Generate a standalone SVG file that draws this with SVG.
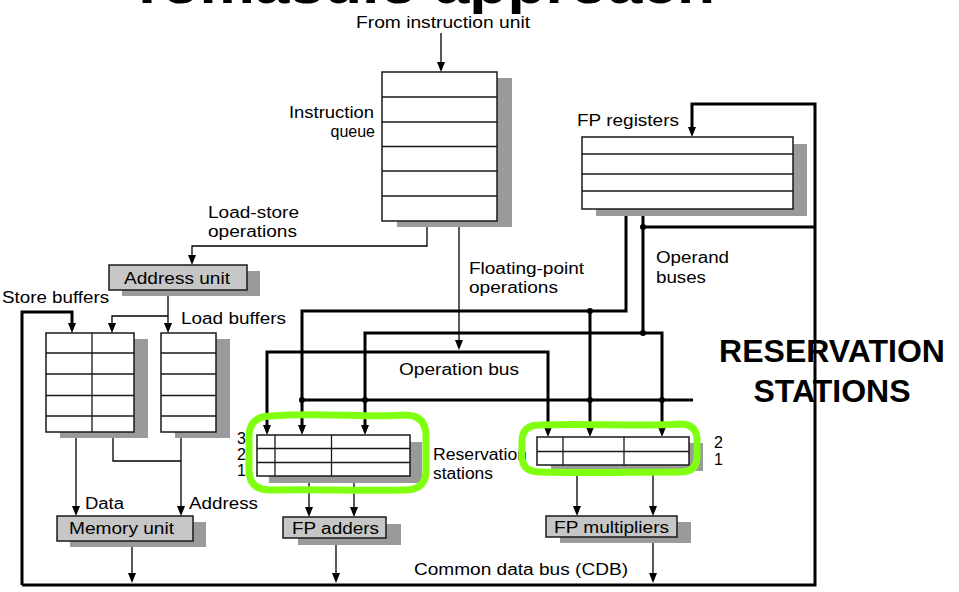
<svg xmlns="http://www.w3.org/2000/svg" width="959" height="592" viewBox="0 0 959 592">
<defs>
<style>
.t{font-family:"Liberation Sans",Arial,Helvetica,sans-serif;font-size:16px;fill:#000}
.b{font-family:"Liberation Sans",Arial,Helvetica,sans-serif;font-weight:bold;fill:#000}
.box{fill:#fff;stroke:#1a1a1a;stroke-width:1.5}
.unit{fill:#c6c6c6;stroke:#1a1a1a;stroke-width:1.5}
.sh{fill:#9a9a9a}
.row{stroke:#1a1a1a;stroke-width:1.3;fill:none}
.thin{stroke:#000;stroke-width:1.3;fill:none}
.thick{stroke:#000;stroke-width:3;fill:none;stroke-linejoin:miter}
.arr{marker-end:url(#ah)}
.arr2{marker-start:url(#ah);marker-end:url(#ah)}
.dot{fill:#000}
.hl{fill:none;stroke:#80ff10;stroke-width:7;stroke-linejoin:round}
</style>
<marker id="ah" markerUnits="userSpaceOnUse" markerWidth="10" markerHeight="8" refX="3" refY="4" orient="auto-start-reverse">
<path d="M0,0 L10,4 L0,8 Z" fill="#000"/>
</marker>
</defs>
<rect width="959" height="592" fill="#fff"/>

<text class="b" x="128" y="3" font-size="51" textLength="587" lengthAdjust="spacingAndGlyphs">Tomasulo approach</text>

<g id="connectors">
<path class="thin arr" d="M441,33 L441,65"/>
<path class="thin arr" d="M427,221 L427,246 L192,246 L192,258"/>
<path class="thin arr" d="M168,290 L168,326"/>
<path class="thin arr" d="M168,316 L112,316 L112,326"/>
<path class="thin arr" d="M76,432 L76,509"/>
<path class="thin" d="M113,432 L113,461 L181,461"/>
<path class="thin arr" d="M181,432 L181,509"/>
<path class="thin arr" d="M132,541 L132,576"/>
<path class="thin arr" d="M459,221 L459,343"/>
<path class="thin arr" d="M309,476 L309,510"/>
<path class="thin arr" d="M354,476 L354,510"/>
<path class="thin arr" d="M336,538 L336,576"/>
<path class="thin arr" d="M577,465 L577,509"/>
<path class="thin arr" d="M653,465 L653,509"/>
<path class="thin arr" d="M653,537 L653,576"/>
<path class="thick arr" d="M22,585 L22,312 L72,312 L72,326"/>
<path class="thick arr" d="M22,585 L815,585 L815,104 L692,104 L692,130"/>
<path class="thick" d="M815,227 L643,227"/>
<path class="thick arr" d="M626,209 L626,311 L302,311 L302,428"/>
<path class="thick arr" d="M590,311 L590,430"/>
<path class="thick" d="M643,209 L643,333"/>
<path class="thick arr2" d="M365,428 L365,333 L662,333 L662,430"/>
<path class="thick arr2" d="M267,428 L267,352 L548,352 L548,430"/>
<path class="thick" d="M302,400 L693,400"/>
<circle class="dot" cx="643" cy="227" r="3"/>
<circle class="dot" cx="590" cy="311" r="3"/>
<circle class="dot" cx="643" cy="333" r="3"/>
<circle class="dot" cx="302" cy="400" r="3"/>
<circle class="dot" cx="365" cy="400" r="3"/>
<circle class="dot" cx="590" cy="400" r="3"/>
<circle class="dot" cx="662" cy="400" r="3"/>
</g>

<text class="t" x="356" y="28" textLength="174" lengthAdjust="spacingAndGlyphs">From instruction unit</text>

<g id="instruction-queue">
<rect class="sh" x="397" y="78" width="115" height="149"/>
<rect class="box" x="382" y="72" width="115" height="149"/>
<path class="row" d="M382,97H497M382,122H497M382,146.5H497M382,171H497M382,196H497"/>
<text class="t" x="289" y="118" textLength="85" lengthAdjust="spacingAndGlyphs">Instruction</text>
<text class="t" x="375" y="137" text-anchor="end">queue</text>
</g>

<g id="fp-registers">
<rect class="sh" x="596" y="144" width="211" height="72"/>
<rect class="box" x="582" y="137" width="211" height="72"/>
<path class="row" d="M582,154H793M582,174H793M582,191H793"/>
<text class="t" x="577" y="126" textLength="102" lengthAdjust="spacingAndGlyphs">FP registers</text>
</g>

<text class="t" x="208" y="218" textLength="91" lengthAdjust="spacingAndGlyphs">Load-store</text>
<text class="t" x="208" y="237" textLength="89" lengthAdjust="spacingAndGlyphs">operations</text>
<text class="t" x="469" y="274" textLength="115" lengthAdjust="spacingAndGlyphs">Floating-point</text>
<text class="t" x="469" y="293" textLength="89" lengthAdjust="spacingAndGlyphs">operations</text>
<text class="t" x="656" y="263" textLength="73" lengthAdjust="spacingAndGlyphs">Operand</text>
<text class="t" x="656" y="283" textLength="50" lengthAdjust="spacingAndGlyphs">buses</text>
<text class="t" x="399" y="375" textLength="120" lengthAdjust="spacingAndGlyphs">Operation bus</text>
<text class="t" x="414" y="575" textLength="214" lengthAdjust="spacingAndGlyphs">Common data bus (CDB)</text>

<g id="address-unit">
<rect class="sh" x="122" y="271" width="138" height="25"/>
<rect class="unit" x="109" y="265" width="138" height="25"/>
<text class="t" x="124" y="284" textLength="106" lengthAdjust="spacingAndGlyphs">Address unit</text>
</g>

<g id="store-buffers">
<rect class="sh" x="60" y="339" width="88" height="99"/>
<rect class="box" x="46" y="333" width="88" height="99"/>
<path class="row" d="M46,353H134M46,374H134M46,395.5H134M46,416H134M92,333V432"/>
<text class="t" x="2" y="303" textLength="107" lengthAdjust="spacingAndGlyphs">Store buffers</text>
</g>

<g id="load-buffers">
<rect class="sh" x="175" y="339" width="55" height="99"/>
<rect class="box" x="161" y="333" width="55" height="99"/>
<path class="row" d="M161,353H216M161,374H216M161,395.5H216M161,416H216"/>
<text class="t" x="181" y="324" textLength="105" lengthAdjust="spacingAndGlyphs">Load buffers</text>
</g>

<g id="memory-unit">
<rect class="sh" x="70" y="522" width="136" height="25"/>
<rect class="unit" x="57" y="516" width="136" height="25"/>
<text class="t" x="69" y="534" textLength="105" lengthAdjust="spacingAndGlyphs">Memory unit</text>
<text class="t" x="85" y="509" textLength="39" lengthAdjust="spacingAndGlyphs">Data</text>
<text class="t" x="189" y="509" textLength="69" lengthAdjust="spacingAndGlyphs">Address</text>
</g>

<g id="adder-reservation-stations">
<rect class="sh" x="269" y="442" width="153" height="41"/>
<rect class="box" x="257" y="435" width="153" height="41"/>
<path class="row" d="M257,448.5H410M257,462.5H410M275,435V476M331.5,435V476"/>
<text class="t" x="237" y="444">3</text>
<text class="t" x="237" y="460">2</text>
<text class="t" x="237" y="476">1</text>
</g>

<text class="t" x="433" y="460" textLength="94" lengthAdjust="spacingAndGlyphs">Reservation</text>
<text class="t" x="433" y="479" textLength="60" lengthAdjust="spacingAndGlyphs">stations</text>

<g id="multiplier-reservation-stations">
<rect class="sh" x="551" y="443" width="152" height="28"/>
<rect class="box" x="537" y="437" width="152" height="28"/>
<path class="row" d="M537,451.5H689M563,437V465M624,437V465"/>
<text class="t" x="714" y="448">2</text>
<text class="t" x="714" y="465">1</text>
</g>

<g id="fp-adders">
<rect class="sh" x="298" y="524" width="103" height="21"/>
<rect class="unit" x="283" y="517" width="103" height="21"/>
<text class="t" x="292" y="534" textLength="87" lengthAdjust="spacingAndGlyphs">FP adders</text>
</g>

<g id="fp-multipliers">
<rect class="sh" x="560" y="522" width="131" height="21"/>
<rect class="unit" x="546" y="516" width="131" height="21"/>
<text class="t" x="554" y="533" textLength="115" lengthAdjust="spacingAndGlyphs">FP multipliers</text>
</g>

<g id="highlights">
<path class="hl" d="M271,416 C320,412 370,418 405,415 Q426,415 426,436 L426,470 Q426,490 405,490 C360,491 310,489 270,490 Q249,490 249,470 L249,437 Q249,416 271,416 Z"/>
<path class="hl" d="M540,425 C590,423 640,427 680,424 Q697,424 697,440 L697,457 Q697,472 680,472 C630,472 580,473 540,472 Q522,472 522,456 L522,441 Q522,425 540,425 Z"/>
</g>

<g id="reservation-stations-label">
<text class="b" x="832" y="362" font-size="32" text-anchor="middle">RESERVATION</text>
<text class="b" x="832" y="402" font-size="32" text-anchor="middle">STATIONS</text>
</g>
</svg>
